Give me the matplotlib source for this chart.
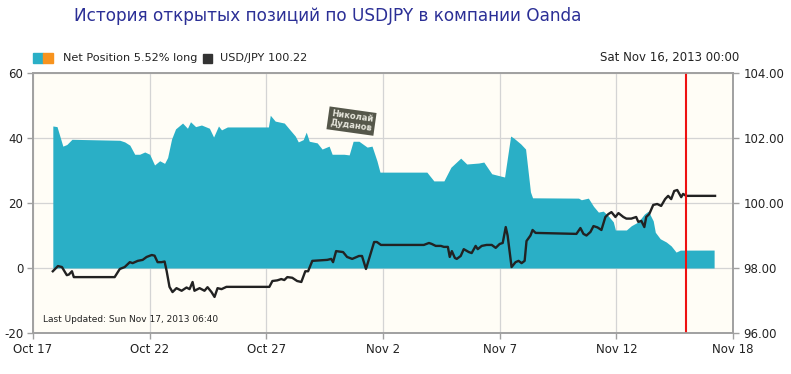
import matplotlib.pyplot as plt
from matplotlib.patches import Rectangle

plt.rcParams['axes.unicode_minus'] = False

# days since Oct 17
net_days = [0.85, 1.03, 1.28, 1.45, 1.67, 3.72, 3.93, 4.15, 4.36, 4.57, 4.79, 5.0, 5.21, 5.43,
            5.64, 5.77, 5.94, 6.11, 6.41, 6.62, 6.75, 6.97, 7.22, 7.56, 7.74, 7.95, 8.08, 8.33,
            10.09, 10.17, 10.38, 10.77, 10.98, 11.24, 11.37, 11.58, 11.71, 11.84, 12.18, 12.39,
            12.69, 12.82, 13.33, 13.55, 13.72, 13.97, 14.32, 14.53, 14.74, 14.87, 16.88, 17.18,
            17.61, 17.91, 18.33, 18.59, 19.1, 19.32, 19.66, 20.04, 20.21, 20.47, 20.6, 20.9,
            21.11, 21.32, 21.41, 23.38, 23.5, 23.8, 24.02, 24.23, 24.44, 24.66, 24.87, 24.96,
            25.43, 25.64, 25.94, 26.2, 26.37, 26.58, 26.67, 26.88, 27.14, 27.35, 27.56, 27.74, 29.19]
net_pos = [43.7, 43.5, 37.5, 38.0, 39.6, 39.3, 38.8, 37.8, 35.0, 35.0, 35.7, 35.0, 31.7, 33.0,
           32.2, 34.0, 39.7, 42.8, 44.6, 43.0, 45.0, 43.5, 44.0, 43.0, 40.3, 43.7, 42.5, 43.4,
           43.4, 47.0, 45.2, 44.6, 42.8, 40.6, 38.8, 39.5, 41.8, 39.0, 38.5, 36.6,
           37.5, 35.0, 35.0, 34.8, 39.0, 39.0, 37.2, 37.5, 33.0, 29.5, 29.5, 26.8,
           26.8, 31.0, 33.8, 32.0, 32.3, 32.6, 29.0, 28.3, 28.0, 40.6, 40.0, 38.2,
           36.6, 23.4, 21.6, 21.5, 21.0, 21.5, 19.0, 17.2, 17.5, 16.0, 14.2, 11.7,
           11.7, 13.0, 14.2, 16.6, 17.5, 14.5, 11.0, 9.0, 8.0, 6.8, 4.9, 5.5, 5.52]

px_days = [0.85, 1.07, 1.24, 1.45, 1.54, 1.67, 1.75, 3.5, 3.72, 3.93, 4.15, 4.27, 4.49, 4.7,
           4.87, 5.09, 5.21, 5.34, 5.51, 5.64, 5.73, 5.85, 5.98, 6.15, 6.37, 6.58, 6.71, 6.84,
           6.92, 7.14, 7.35, 7.48, 7.65, 7.78, 7.91, 8.08, 8.29, 10.13, 10.26, 10.47, 10.64,
           10.77, 10.9, 11.11, 11.32, 11.5, 11.67, 11.79, 11.97, 12.61, 12.78, 12.86, 12.99,
           13.21, 13.29, 13.46, 13.68, 13.97, 14.1, 14.27, 14.4, 14.62, 14.74, 14.91, 16.75,
           16.97, 17.09, 17.26, 17.48, 17.61, 17.78, 17.86, 17.95, 18.08, 18.16, 18.33, 18.46,
           18.68, 18.8, 18.97, 19.06, 19.23, 19.44, 19.66, 19.83, 20.0, 20.13, 20.26, 20.34,
           20.43, 20.51, 20.68, 20.81, 20.94, 21.07, 21.15, 21.32, 21.41, 21.54, 23.29, 23.46,
           23.59, 23.72, 23.89, 24.02, 24.19, 24.36, 24.53, 24.66, 24.79, 24.96, 25.09, 25.3,
           25.43, 25.64, 25.85, 25.94, 26.07, 26.2, 26.28, 26.41, 26.58, 26.75, 26.92, 27.09,
           27.22, 27.35, 27.48, 27.61, 27.78, 27.86, 27.99, 29.23]
usdjpy = [97.9, 98.06, 98.03, 97.78, 97.8, 97.9, 97.72, 97.72, 97.97, 98.03, 98.18, 98.15, 98.22, 98.25,
          98.34, 98.4, 98.38, 98.18, 98.18, 98.2, 97.9, 97.42, 97.26, 97.38, 97.3, 97.4, 97.35, 97.57,
          97.3, 97.38, 97.3, 97.41, 97.26, 97.11, 97.38, 97.35, 97.42, 97.42, 97.6, 97.62, 97.66,
          97.63, 97.72, 97.7, 97.6, 97.57, 97.9, 97.9, 98.22, 98.25, 98.28, 98.18, 98.52,
          98.5, 98.49, 98.34, 98.28, 98.37, 98.37, 97.97, 98.28, 98.8, 98.8, 98.71, 98.71,
          98.77, 98.74, 98.68, 98.68, 98.65, 98.65, 98.34, 98.52, 98.31, 98.28, 98.37, 98.58,
          98.49, 98.46, 98.68, 98.58, 98.68, 98.71, 98.71, 98.62, 98.74, 98.77, 99.26, 99.0,
          98.49, 98.03, 98.18, 98.22, 98.15, 98.22, 98.83, 99.0, 99.17, 99.08, 99.05, 99.23,
          99.05, 99.0, 99.11, 99.29, 99.25, 99.17, 99.57, 99.66, 99.72, 99.57, 99.69, 99.57,
          99.52, 99.52, 99.57, 99.42, 99.45, 99.26, 99.57, 99.66, 99.94, 99.97, 99.91, 100.12,
          100.22, 100.12, 100.37, 100.4, 100.18, 100.28, 100.22, 100.22]

tick_days = [0, 5, 10, 15, 20, 25, 30]
tick_labels = ['Oct 17', 'Oct 22', 'Oct 27', 'Nov 2', 'Nov 7', 'Nov 12', 'Nov 18']
left_ticks = [-20, 0, 20, 40, 60]
right_ticks = [96, 98, 100, 102, 104]
marker_day = 28

teal = '#2aafc6'
gray = '#a0a0a0'

fig = plt.figure(figsize=(7.91, 3.74), dpi=100)
ax = fig.add_axes([0.0417, 0.1096, 0.885, 0.6952])
ax.set_facecolor('#fffdf6')
ax.set_axisbelow(True)
ax.grid(True, color='#d4d4d4', lw=0.9)

ax.fill_between(net_days, 0, net_pos, color=teal, lw=0)
ax.set_xlim(0, 30)
ax.set_ylim(-20, 60)
ax.set_xticks(tick_days)
ax.set_xticklabels(tick_labels)
ax.set_yticks(left_ticks)

ax2 = ax.twinx()
ax2.plot(px_days, usdjpy, color='#222222', lw=1.7, solid_joinstyle='round')
ax2.axvline(marker_day, color='#ee1111', lw=1.5)
ax2.set_ylim(96, 104)
ax2.set_yticks(right_ticks)
ax2.set_yticklabels(['%.2f' % v for v in right_ticks])

for a in (ax, ax2):
    for s in a.spines.values():
        s.set_color(gray)
        s.set_linewidth(1.2)
    a.tick_params(colors=gray, labelcolor='#222222', labelsize=8.5, length=4, width=1)
ax.tick_params(axis='y', pad=3)

fig.text(74 / 791, 1 - 16 / 374, 'История открытых позиций по USDJPY в компании Oanda',
         color='#2b2f96', fontsize=12.2, ha='left', va='center')

# legend row
fig.patches.append(Rectangle((33 / 791, 1 - 63 / 374), 10 / 791, 10 / 374,
                             transform=fig.transFigure, color=teal))
fig.patches.append(Rectangle((43 / 791, 1 - 63 / 374), 10 / 791, 10 / 374,
                             transform=fig.transFigure, color='#f7931e'))
fig.text(63 / 791, 1 - 58 / 374, 'Net Position 5.52% long', fontsize=8.1, color='#222222',
         va='center', ha='left')
fig.patches.append(Rectangle((203 / 791, 1 - 63 / 374), 9 / 791, 9 / 374,
                             transform=fig.transFigure, color='#333333'))
fig.text(220 / 791, 1 - 58 / 374, 'USD/JPY 100.22', fontsize=8.1, color='#222222',
         va='center', ha='left')
fig.text(739 / 791, 1 - 58 / 374, 'Sat Nov 16, 2013 00:00', fontsize=8.5, color='#222222',
         va='center', ha='right')

ax.text(0.015, 0.035, 'Last Updated: Sun Nov 17, 2013 06:40', transform=ax.transAxes,
        fontsize=6.5, color='#222222', ha='left', va='bottom')

# watermark
ax.text(0.455, 0.815, 'Николай\nДуданов', transform=ax.transAxes, fontsize=6,
        fontweight='bold', color='#e6e6dc', ha='center', va='center', rotation=-8,
        linespacing=1.0,
        bbox=dict(boxstyle='square,pad=0.3', facecolor='#55574a', edgecolor='none'))

fig.savefig('out.png', dpi=100, facecolor='white')
